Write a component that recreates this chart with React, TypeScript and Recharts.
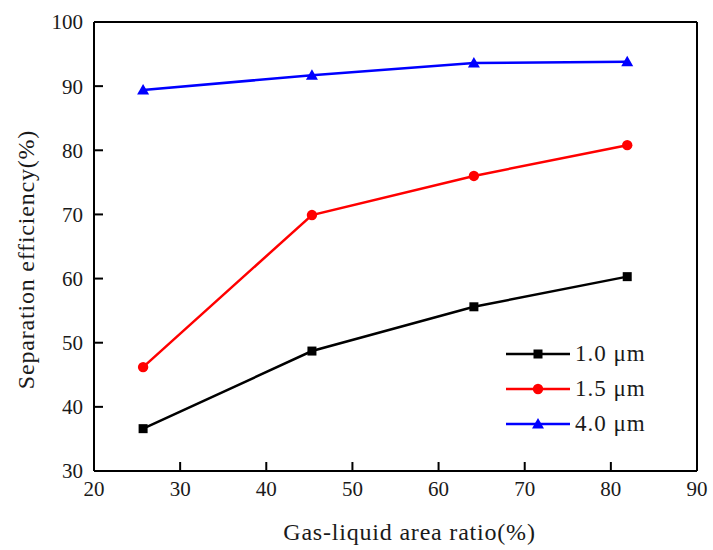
import { LineChart, Line, XAxis, YAxis, Label, Legend, ReferenceLine } from "recharts";

// gas-liquid area ratio (%) at each measurement
const ratios = [25.7, 45.3, 64.1, 81.9];
// separation efficiency (%) per droplet size
const eff10 = [36.6, 48.7, 55.6, 60.3];
const eff15 = [46.2, 69.9, 76.0, 80.8];
const eff40 = [89.4, 91.7, 93.6, 93.8];

const xTicks = [20, 30, 40, 50, 60, 70, 80, 90];
const yTicks = [30, 40, 50, 60, 70, 80, 90, 100];

const series = [
  { key: "d10", name: "1.0 μm", color: "#000000", shape: "square" },
  { key: "d15", name: "1.5 μm", color: "#ff0000", shape: "circle" },
  { key: "d40", name: "4.0 μm", color: "#0000ff", shape: "triangle" },
];

const data = ratios.map((r, i) => ({ ratio: r, d10: eff10[i], d15: eff15[i], d40: eff40[i] }));

const FONT = "'Liberation Serif', 'DejaVu Serif', serif";
const TEXT = "#1a1a1a";
const titleStyle = { fill: TEXT, fontSize: 24, fontFamily: FONT, letterSpacing: 0.8 };

function Marker({ cx, cy, shape, color }: any) {
  if (cx == null || cy == null) return null;
  if (shape === "square") {
    return <rect x={cx - 4.5} y={cy - 4.5} width={9} height={9} fill={color} />;
  }
  if (shape === "triangle") {
    return <polygon points={`${cx},${cy - 6} ${cx + 6},${cy + 4.5} ${cx - 6},${cy + 4.5}`} fill={color} />;
  }
  return <circle cx={cx} cy={cy} r={5.2} fill={color} />;
}

function LegendBox() {
  return (
    <div style={{ fontFamily: FONT, fontSize: 23, color: TEXT, letterSpacing: 1 }}>
      {series.map((s) => (
        <div key={s.key} style={{ display: "flex", alignItems: "center", height: 35 }}>
          <svg width={72} height={20}>
            <line x1={6} x2={70} y1={10} y2={10} stroke={s.color} strokeWidth={2.5} />
            <Marker cx={38} cy={10} shape={s.shape} color={s.color} />
          </svg>
          <span style={{ marginLeft: 3 }}>{s.name}</span>
        </div>
      ))}
    </div>
  );
}

// rotated y title, a little below the plot's middle
const yTitle = ({ viewBox }: any) => {
  const x = viewBox.x + 26;
  const y = viewBox.y + viewBox.height / 2 + 13;
  return (
    <text
      x={x}
      y={y}
      transform={`rotate(-90, ${x}, ${y})`}
      textAnchor="middle"
      dominantBaseline="central"
      style={titleStyle}
    >
      Separation efficiency(%)
    </text>
  );
};

export default function App() {
  return (
    <div style={{ position: "absolute", left: 0, top: 0, background: "#fff" }}>
      <LineChart width={713} height={550} data={data} margin={{ top: 22, right: 16, bottom: 0, left: 0 }}>
        <XAxis
          dataKey="ratio"
          type="number"
          domain={[20, 90]}
          ticks={xTicks}
          height={79}
          tickSize={-9}
          tickMargin={19}
          axisLine={{ stroke: "#000", strokeWidth: 2 }}
          tickLine={{ stroke: "#000", strokeWidth: 2 }}
          tick={{ fill: TEXT, fontSize: 21, fontFamily: FONT }}
        >
          <Label value="Gas-liquid area ratio(%)" position="insideBottom" offset={10} dx={14} style={titleStyle} />
        </XAxis>
        <YAxis
          type="number"
          domain={[30, 100]}
          ticks={yTicks}
          width={94}
          tickSize={-9}
          tickMargin={20}
          axisLine={{ stroke: "#000", strokeWidth: 2 }}
          tickLine={{ stroke: "#000", strokeWidth: 2 }}
          tick={{ fill: TEXT, fontSize: 21, fontFamily: FONT }}
        >
          <Label content={yTitle} />
        </YAxis>
        <ReferenceLine y={100} stroke="#000" strokeWidth={2} />
        <ReferenceLine x={90} stroke="#000" strokeWidth={2} />
        {series.map((s) => (
          <Line
            key={s.key}
            dataKey={s.key}
            name={s.name}
            type="linear"
            stroke={s.color}
            strokeWidth={2.5}
            dot={(p: any) => <Marker key={`${s.key}-${p.index}`} cx={p.cx} cy={p.cy} shape={s.shape} color={s.color} />}
            activeDot={false}
            isAnimationActive={false}
          />
        ))}
        <Legend
          layout="vertical"
          align="center"
          verticalAlign="middle"
          content={<LegendBox />}
          wrapperStyle={{ left: 500, top: 336, width: 180 }}
        />
      </LineChart>
    </div>
  );
}
